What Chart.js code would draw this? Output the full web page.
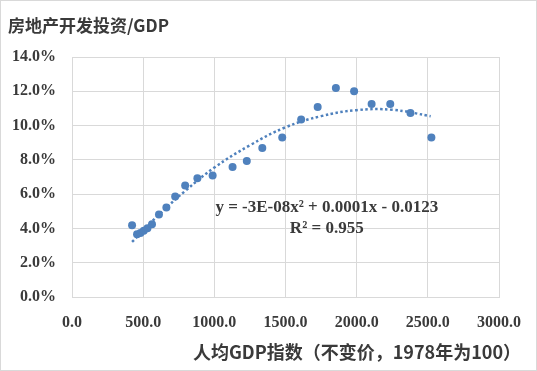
<!DOCTYPE html>
<html>
<head>
<meta charset="utf-8">
<script src="https://cdn.jsdelivr.net/npm/chart.js"></script>
<style>
body { margin: 0; background: #fff; }
</style>
</head>
<body>
<canvas id="myChart" width="537" height="371"></canvas>
<script>
// values
const gdpIndex    = [422, 457, 481, 504, 530, 562, 611, 663, 725, 795, 881, 988, 1128, 1228, 1337, 1477, 1610, 1726, 1854, 1982, 2105, 2236, 2378, 2525];
const investRatio = [4.19, 3.66, 3.74, 3.86, 4.01, 4.25, 4.81, 5.22, 5.86, 6.51, 6.92, 7.09, 7.58, 7.93, 8.69, 9.31, 10.36, 11.08, 12.19, 12.00, 11.26, 11.26, 10.73, 9.31];

// dotted trend line, sampled along the curve in the picture
const trendX = [422, 600, 800, 1000, 1250, 1500, 1750, 2000, 2250, 2520];
const trendY = [3.21, 4.72, 6.22, 7.55, 8.85, 9.90, 10.55, 10.90, 10.92, 10.55];

const yTicks = [0, 2, 4, 6, 8, 10, 12, 14];
const xTicks = [0, 500, 1000, 1500, 2000, 2500, 3000];

const titleText = "房地产开发投资/GDP";
const xTitleText = "人均GDP指数（不变价，1978年为100）";
const eqLine1 = "y = -3E-08x² + 0.0001x - 0.0123";
const eqLine2 = "R² = 0.955";

const blue = "#4f81bd";
const textCol = "#3a3a3a";
const gridCol = "#d9d9d9";

const scatterPoints = gdpIndex.map((x, i) => ({x: x, y: investRatio[i]}));
const trendPoints = trendX.map((x, i) => ({x: x, y: trendY[i]}));

// texts outside the axes + frame of the chart
const extras = {
  id: "extras",
  afterDraw(chart) {
    const ctx = chart.ctx;
    ctx.save();
    ctx.strokeStyle = gridCol;
    ctx.lineWidth = 1;
    ctx.strokeRect(0.5, 0.5, chart.width - 1, chart.height - 1);

    ctx.fillStyle = textCol;
    ctx.textBaseline = "middle";
    ctx.textAlign = "left";
    ctx.font = "bold 17px 'Noto Sans CJK SC'";
    ctx.fillText(titleText, 8, 26, 165);

    ctx.textAlign = "center";
    ctx.font = "bold 18px 'Noto Sans CJK SC'";
    ctx.fillText(xTitleText, 357, 352, 330);

    // equation of the trend line
    const xs = chart.scales.x, ys = chart.scales.y;
    const cx = xs.getPixelForValue(1790);
    ctx.font = "bold 17px 'Liberation Serif'";
    ctx.fillText(eqLine1, cx, ys.getPixelForValue(5.23), 225);
    ctx.fillText(eqLine2, cx, ys.getPixelForValue(4.0), 74);
    ctx.restore();
  }
};

new Chart("myChart", {
  type: "scatter",
  data: {
    datasets: [{
      data: trendPoints,
      showLine: true,
      borderColor: blue,
      borderWidth: 2.5,
      borderDash: [2.5, 2.5],
      tension: 0.4,
      pointRadius: 0,
      fill: false
    }, {
      data: scatterPoints,
      backgroundColor: blue,
      borderColor: blue,
      pointRadius: 4,
      borderWidth: 0
    }]
  },
  options: {
    responsive: false,
    animation: false,
    devicePixelRatio: 1,
    layout: {padding: {left: 0, top: 57, right: 30, bottom: 0}},
    plugins: {
      legend: {display: false},
      tooltip: {enabled: false}
    },
    scales: {
      x: {
        type: "linear",
        min: 0, max: 3000,
        afterBuildTicks: s => { s.ticks = xTicks.map(v => ({value: v})); },
        afterFit: s => { s.height = 74; },
        grid: {color: gridCol, drawTicks: false},
        border: {color: gridCol},
        ticks: {
          padding: 16,
          color: textCol,
          font: {family: "'Liberation Serif'", size: 16, weight: "bold"},
          callback: v => Number(v).toFixed(1)
        }
      },
      y: {
        min: 0, max: 14,
        afterBuildTicks: s => { s.ticks = yTicks.map(v => ({value: v})); },
        afterFit: s => { s.width = 72; },
        grid: {color: gridCol, drawTicks: false},
        border: {display: false},
        ticks: {
          padding: 16,
          color: textCol,
          font: {family: "'Liberation Serif'", size: 16, weight: "bold"},
          callback: v => Number(v).toFixed(1) + "%"
        }
      }
    }
  },
  plugins: [extras]
});
</script>
</body>
</html>
